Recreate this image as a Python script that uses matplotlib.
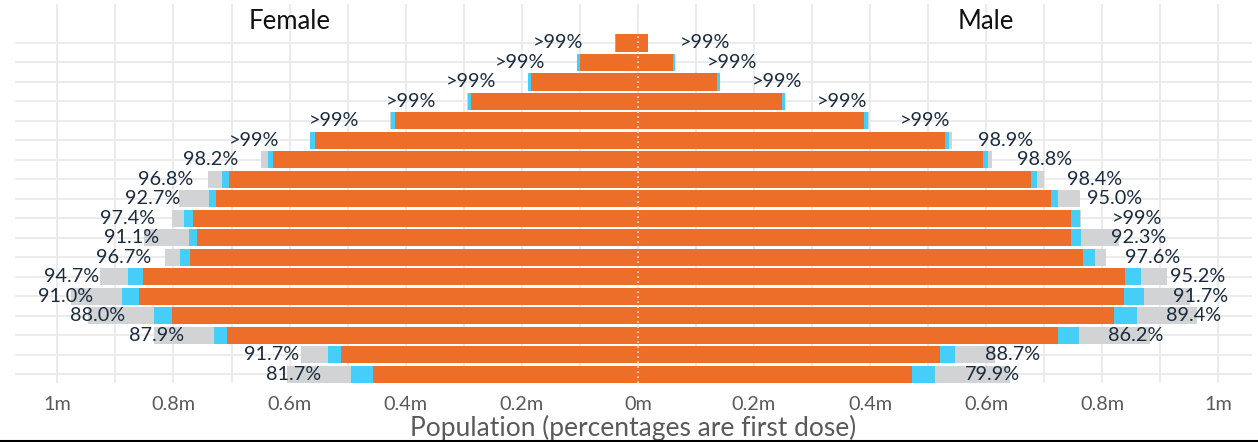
import matplotlib
matplotlib.use("Agg")
import matplotlib.pyplot as plt
import numpy as np
from matplotlib.lines import Line2D

plt.rcParams['font.family'] = ['Lato', 'DejaVu Sans']

# rows listed top (oldest) to bottom (youngest); values in millions
female_population = [0.040, 0.105, 0.190, 0.294, 0.427, 0.565, 0.650, 0.740, 0.791, 0.802,
                     0.850, 0.815, 0.926, 0.976, 0.947, 0.833, 0.581, 0.605]
female_first = [0.040, 0.105, 0.189, 0.293, 0.426, 0.564, 0.638, 0.716, 0.738, 0.781,
                0.774, 0.788, 0.878, 0.888, 0.833, 0.731, 0.533, 0.495]
female_second = [0.037, 0.100, 0.1845, 0.288, 0.419, 0.557, 0.628, 0.705, 0.726, 0.767,
                 0.760, 0.771, 0.853, 0.859, 0.802, 0.707, 0.512, 0.457]
female_labels = ['>99%', '>99%', '>99%', '>99%', '>99%', '>99%', '98.2%', '96.8%', '92.7%',
                 '97.4%', '91.1%', '96.7%', '94.7%', '91.0%', '88.0%', '87.9%', '91.7%', '81.7%']

male_population = [0.017, 0.064, 0.142, 0.254, 0.398, 0.542, 0.610, 0.699, 0.762, 0.764,
                   0.829, 0.807, 0.912, 0.951, 0.964, 0.883, 0.616, 0.641]
male_first = [0.017, 0.064, 0.141, 0.253, 0.397, 0.536, 0.603, 0.688, 0.724, 0.762,
              0.764, 0.788, 0.867, 0.872, 0.860, 0.760, 0.547, 0.512]
male_second = [0.0167, 0.060, 0.136, 0.248, 0.390, 0.529, 0.595, 0.678, 0.712, 0.747,
               0.747, 0.766, 0.840, 0.838, 0.821, 0.724, 0.521, 0.472]
male_labels = ['>99%', '>99%', '>99%', '>99%', '>99%', '98.9%', '98.8%', '98.4%', '95.0%',
               '>99%', '92.3%', '97.6%', '95.2%', '91.7%', '89.4%', '86.2%', '88.7%', '79.9%']

tick_values = [-1.0, -0.8, -0.6, -0.4, -0.2, 0.0, 0.2, 0.4, 0.6, 0.8, 1.0]
tick_labels = ['1m', '0.8m', '0.6m', '0.4m', '0.2m', '0m', '0.2m', '0.4m', '0.6m', '0.8m', '1m']

GREY = '#D1D3D4'
BLUE = '#45CFF8'
ORANGE = '#EC6E28'
LABEL_C = '#1B2B3E'
TICK_C = '#5A5A5A'
GRID_C = '#EBEBEB'

n = len(female_population)
y = np.arange(n)[::-1]

fig = plt.figure(figsize=(12.58, 4.42), dpi=100)
ax = fig.add_axes([15 / 1258, 1 - 383 / 442, (1252 - 15) / 1258, (383 - 4) / 442])

h = 0.88
fp = np.array(female_population); ff = np.array(female_first); fs = np.array(female_second)
mp = np.array(male_population); mf = np.array(male_first); ms = np.array(male_second)

ax.barh(y, -fp, height=h, color=GREY, zorder=2)
ax.barh(y, -ff, height=h, color=BLUE, zorder=3)
ax.barh(y, -fs, height=h, color=ORANGE, zorder=4)
ax.barh(y, mp, height=h, color=GREY, zorder=2)
ax.barh(y, mf, height=h, color=BLUE, zorder=3)
ax.barh(y, ms, height=h, color=ORANGE, zorder=4)

fsz = 14.3
for yi, v, lab in zip(y, ff, female_labels):
    ax.text(-(v + 0.098), yi, lab, ha='center', va='center', fontsize=fsz, color=LABEL_C, zorder=6)
for yi, v, lab in zip(y, mf, male_labels):
    ax.text(v + 0.098, yi, lab, ha='center', va='center', fontsize=fsz, color=LABEL_C, zorder=6)

ax.text(-0.6, 18.1, 'Female', ha='center', va='center', fontsize=18.5, color='#111111')
ax.text(0.6, 18.1, 'Male', ha='center', va='center', fontsize=18.5, color='#111111')

ax.axvline(0, color='#E6E6E6', linestyle=(0, (1, 2)), linewidth=1.2, zorder=5)

ax.set_xlim(-1.073, 1.058)
ax.set_ylim(-0.45, 19.0)
ax.set_xticks(tick_values)
ax.set_xticklabels(tick_labels, fontsize=14.3, color=TICK_C)
ax.set_xticks(np.arange(-1.0, 1.01, 0.1), minor=True)
ax.set_yticks(y)
ax.set_yticklabels([])
ax.tick_params(axis='both', which='both', length=0)
ax.tick_params(axis='x', pad=9)
ax.grid(axis='x', which='both', color=GRID_C, linewidth=1.4, zorder=0)
ax.grid(axis='y', which='major', color=GRID_C, linewidth=1.4, zorder=0)
ax.set_axisbelow(True)
for s in ax.spines.values():
    s.set_visible(False)

ax.set_xlabel('Population (percentages are first dose)', fontsize=19, color=TICK_C, labelpad=2)

fig.add_artist(Line2D([0, 1], [1.0 / 442, 1.0 / 442], color='black', linewidth=1.5,
                      transform=fig.transFigure))

fig.savefig('out.png', dpi=100)
